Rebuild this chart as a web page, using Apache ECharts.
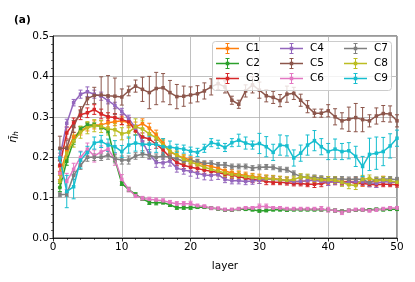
<!DOCTYPE html>
<html><head><meta charset="utf-8">
<script src="https://cdn.jsdelivr.net/npm/echarts@6/dist/echarts.min.js"></script>
<style>html,body{margin:0;padding:0;background:#fff}#c{width:415px;height:282px}</style>
</head><body><div id="c"></div>
<script>
const layers = [1,2,3,4,5,6,7,8,9,10,11,12,13,14,15,16,17,18,19,20,21,22,23,24,25,26,27,28,29,30,31,32,33,34,35,36,37,38,39,40,41,42,43,44,45,46,47,48,49,50];
const seriesNames = ['C1','C2','C3','C4','C5','C6','C7','C8','C9'];
const colors = ['#ff7f0e','#2ca02c','#d62728','#9467bd','#8c564b','#e377c2','#7f7f7f','#bcbd22','#17becf'];
const xTicks = [0,10,20,30,40,50];
const yTicks = [0.0,0.1,0.2,0.3,0.4,0.5];

const C1 = [0.16,0.215,0.25,0.265,0.275,0.28,0.28,0.285,0.288,0.29,0.285,0.275,0.283,0.272,0.255,0.235,0.213,0.205,0.198,0.193,0.186,0.181,0.177,0.173,0.166,0.161,0.158,0.155,0.152,0.15,0.148,0.147,0.145,0.143,0.14,0.14,0.142,0.145,0.143,0.14,0.142,0.14,0.14,0.14,0.138,0.14,0.14,0.145,0.14,0.138];
const C1err = [0.015,0.012,0.012,0.01,0.01,0.01,0.01,0.01,0.01,0.01,0.012,0.012,0.012,0.012,0.012,0.01,0.01,0.01,0.008,0.008,0.008,0.008,0.008,0.008,0.008,0.008,0.008,0.008,0.008,0.008,0.008,0.008,0.008,0.008,0.008,0.008,0.008,0.008,0.008,0.008,0.008,0.008,0.008,0.01,0.01,0.008,0.008,0.008,0.008,0.008];
const C2 = [0.125,0.19,0.24,0.27,0.28,0.28,0.275,0.265,0.195,0.135,0.12,0.108,0.097,0.088,0.087,0.088,0.082,0.075,0.075,0.075,0.076,0.076,0.074,0.072,0.069,0.069,0.071,0.071,0.07,0.067,0.068,0.07,0.07,0.069,0.07,0.07,0.07,0.07,0.07,0.07,0.068,0.066,0.068,0.069,0.07,0.07,0.071,0.07,0.071,0.071];
const C2err = [0.01,0.01,0.008,0.006,0.005,0.005,0.005,0.005,0.005,0.005,0.004,0.004,0.004,0.005,0.005,0.004,0.004,0.004,0.004,0.004,0.003,0.003,0.003,0.003,0.003,0.003,0.003,0.003,0.003,0.003,0.003,0.003,0.003,0.003,0.003,0.003,0.003,0.003,0.003,0.003,0.004,0.004,0.003,0.003,0.003,0.003,0.003,0.003,0.003,0.003];
const C3 = [0.18,0.26,0.285,0.305,0.31,0.318,0.307,0.3,0.298,0.293,0.288,0.265,0.25,0.245,0.232,0.218,0.2,0.187,0.18,0.175,0.172,0.168,0.165,0.162,0.158,0.155,0.152,0.148,0.145,0.143,0.14,0.138,0.138,0.137,0.135,0.135,0.133,0.133,0.135,0.138,0.14,0.137,0.14,0.135,0.135,0.133,0.132,0.133,0.133,0.132];
const C3err = [0.015,0.015,0.012,0.012,0.012,0.012,0.012,0.01,0.01,0.012,0.01,0.01,0.01,0.01,0.01,0.01,0.008,0.008,0.008,0.008,0.008,0.008,0.008,0.008,0.008,0.008,0.008,0.008,0.008,0.008,0.008,0.006,0.006,0.006,0.006,0.006,0.006,0.008,0.008,0.008,0.008,0.006,0.006,0.006,0.006,0.006,0.006,0.006,0.006,0.006];
const C4 = [0.2,0.284,0.335,0.356,0.362,0.356,0.351,0.34,0.328,0.313,0.296,0.272,0.238,0.207,0.187,0.186,0.19,0.173,0.168,0.165,0.16,0.156,0.155,0.157,0.145,0.142,0.142,0.14,0.141,0.143,0.146,0.145,0.144,0.142,0.14,0.14,0.142,0.143,0.14,0.138,0.14,0.137,0.138,0.14,0.139,0.137,0.135,0.14,0.138,0.138];
const C4err = [0.01,0.01,0.008,0.01,0.012,0.01,0.01,0.008,0.008,0.008,0.008,0.008,0.01,0.012,0.012,0.012,0.012,0.01,0.01,0.012,0.012,0.012,0.012,0.012,0.008,0.008,0.008,0.008,0.008,0.008,0.008,0.008,0.008,0.008,0.008,0.008,0.01,0.01,0.008,0.008,0.008,0.008,0.008,0.008,0.008,0.01,0.01,0.008,0.008,0.008];
const C5 = [0.222,0.222,0.276,0.313,0.345,0.353,0.354,0.352,0.351,0.349,0.364,0.376,0.368,0.36,0.37,0.372,0.36,0.35,0.351,0.354,0.357,0.364,0.374,0.382,0.374,0.341,0.331,0.364,0.379,0.366,0.352,0.348,0.34,0.356,0.358,0.341,0.325,0.309,0.309,0.315,0.3,0.29,0.294,0.298,0.293,0.29,0.302,0.308,0.307,0.29];
const C5err = [0.03,0.02,0.015,0.012,0.015,0.02,0.045,0.05,0.045,0.02,0.012,0.015,0.03,0.04,0.04,0.035,0.03,0.03,0.025,0.02,0.02,0.02,0.02,0.015,0.015,0.01,0.01,0.015,0.02,0.02,0.015,0.015,0.015,0.02,0.015,0.015,0.015,0.01,0.01,0.015,0.02,0.02,0.03,0.035,0.03,0.015,0.02,0.02,0.02,0.015];
const C6 = [0.16,0.14,0.17,0.2,0.22,0.203,0.213,0.22,0.195,0.145,0.12,0.105,0.098,0.096,0.094,0.092,0.088,0.085,0.085,0.085,0.08,0.078,0.074,0.073,0.07,0.07,0.072,0.074,0.074,0.078,0.078,0.074,0.074,0.072,0.072,0.072,0.072,0.072,0.072,0.07,0.068,0.064,0.068,0.07,0.07,0.068,0.07,0.072,0.074,0.074];
const C6err = [0.02,0.02,0.015,0.015,0.015,0.015,0.015,0.015,0.015,0.012,0.006,0.005,0.005,0.005,0.005,0.005,0.005,0.005,0.005,0.006,0.004,0.004,0.004,0.004,0.004,0.004,0.004,0.004,0.004,0.006,0.006,0.004,0.004,0.004,0.004,0.004,0.004,0.004,0.006,0.006,0.004,0.006,0.004,0.004,0.004,0.004,0.004,0.004,0.004,0.004];
const C7 = [0.107,0.108,0.155,0.18,0.2,0.2,0.2,0.205,0.196,0.193,0.193,0.203,0.208,0.205,0.2,0.203,0.2,0.196,0.19,0.192,0.189,0.185,0.185,0.181,0.181,0.177,0.177,0.177,0.173,0.175,0.176,0.175,0.17,0.169,0.16,0.152,0.15,0.15,0.148,0.146,0.146,0.146,0.145,0.146,0.145,0.137,0.145,0.146,0.146,0.144];
const C7err = [0.005,0.005,0.01,0.01,0.01,0.008,0.008,0.01,0.01,0.01,0.01,0.008,0.008,0.008,0.008,0.008,0.008,0.008,0.006,0.006,0.006,0.006,0.006,0.006,0.006,0.006,0.006,0.006,0.006,0.006,0.006,0.006,0.006,0.006,0.006,0.006,0.006,0.006,0.006,0.006,0.006,0.006,0.006,0.006,0.006,0.008,0.006,0.006,0.006,0.006];
const C8 = [0.14,0.21,0.24,0.262,0.273,0.278,0.276,0.27,0.268,0.258,0.262,0.275,0.27,0.258,0.248,0.23,0.215,0.205,0.195,0.188,0.182,0.175,0.17,0.166,0.161,0.157,0.156,0.152,0.15,0.148,0.147,0.146,0.144,0.143,0.145,0.151,0.15,0.146,0.144,0.144,0.143,0.138,0.132,0.13,0.145,0.148,0.142,0.144,0.142,0.138];
const C8err = [0.015,0.015,0.015,0.015,0.015,0.015,0.015,0.015,0.015,0.015,0.015,0.02,0.02,0.015,0.012,0.012,0.01,0.01,0.01,0.008,0.008,0.008,0.008,0.008,0.008,0.008,0.008,0.008,0.008,0.008,0.008,0.008,0.008,0.008,0.008,0.008,0.008,0.008,0.008,0.008,0.008,0.01,0.01,0.01,0.01,0.008,0.008,0.008,0.008,0.008];
const C9 = [0.198,0.115,0.127,0.193,0.212,0.235,0.239,0.23,0.226,0.214,0.23,0.235,0.232,0.232,0.232,0.226,0.225,0.222,0.22,0.215,0.212,0.222,0.236,0.232,0.224,0.236,0.242,0.235,0.23,0.234,0.226,0.212,0.23,0.228,0.198,0.21,0.23,0.241,0.226,0.214,0.22,0.214,0.216,0.202,0.177,0.207,0.21,0.214,0.228,0.247];
const C9err = [0.02,0.04,0.03,0.02,0.015,0.015,0.015,0.015,0.015,0.015,0.02,0.02,0.02,0.02,0.02,0.02,0.015,0.01,0.01,0.01,0.01,0.01,0.01,0.01,0.01,0.01,0.015,0.015,0.01,0.025,0.025,0.02,0.025,0.025,0.02,0.02,0.025,0.025,0.02,0.02,0.025,0.02,0.02,0.025,0.025,0.04,0.04,0.035,0.03,0.02];

const values = [C1,C2,C3,C4,C5,C6,C7,C8,C9];
const errs = [C1err,C2err,C3err,C4err,C5err,C6err,C7err,C8err,C9err];

const FONT = 'DejaVu Sans';
const legendIcon = 'path://M0 4.75H23V6.25H0Z M11 0H12V11H11Z M9.5 0H13.5V1H9.5Z M9.5 10H13.5V11H9.5Z M9.75 3.75H13.25V7.25H9.75Z';

const series = [];
seriesNames.forEach((name, i) => {
  const col = colors[i];
  const lineData = layers.map((l, j) => [l, values[i][j]]);
  const errData = layers.map((l, j) => [l, values[i][j], errs[i][j]]);
  series.push({
    name: name, type: 'line', data: lineData,
    symbol: 'rect', symbolSize: 3.5, showSymbol: true,
    lineStyle: {color: col, width: 1.5}, itemStyle: {color: col},
    emphasis: {disabled: true}, animation: false, z: 2
  });
  series.push({
    name: name + '_err', type: 'custom', data: errData, animation: false, z: 2,
    renderItem: function (params, api) {
      const x = api.value(0), y = api.value(1), e = api.value(2);
      const t = api.coord([x, y + e]), b = api.coord([x, y - e]);
      const cap = 2;
      const st = {stroke: col, lineWidth: 1};
      return {type: 'group', children: [
        {type: 'line', shape: {x1: t[0], y1: t[1], x2: b[0], y2: b[1]}, style: st},
        {type: 'line', shape: {x1: t[0]-cap, y1: t[1], x2: t[0]+cap, y2: t[1]}, style: st},
        {type: 'line', shape: {x1: b[0]-cap, y1: b[1], x2: b[0]+cap, y2: b[1]}, style: st}
      ]};
    }
  });
});

function mkLegend(names, left) {
  return {
    data: names, orient: 'vertical', left: left, top: 43,
    itemWidth: 23, itemHeight: 11, itemGap: 4, icon: legendIcon,
    textStyle: {fontFamily: FONT, fontSize: 10.5, color: '#000', padding: [0,0,0,2]},
    selectedMode: false, z: 6, padding: 0
  };
}

const chart = echarts.init(document.getElementById('c'), null, {renderer: 'canvas'});
chart.setOption({
  animation: false,
  backgroundColor: '#fff',
  title: {text: '(a)', left: 9, top: 10, textStyle: {fontFamily: FONT, fontSize: 10.5, fontWeight: 'bold', color: '#000'}},
  grid: {left: 52, top: 36, right: 18, bottom: 44, show: true, borderColor: '#000', borderWidth: 0.8, backgroundColor: 'transparent'},
  xAxis: {
    type: 'value', min: xTicks[0], max: xTicks[xTicks.length-1], interval: 10,
    name: 'layer', nameLocation: 'middle', nameGap: 23,
    nameTextStyle: {fontFamily: FONT, fontSize: 10.5, color: '#000'},
    axisLine: {show: true, onZero: false, lineStyle: {color: '#000', width: 0.8}},
    axisTick: {show: true, inside: false, length: 3.5, lineStyle: {color: '#000', width: 0.8}},
    minorTick: {show: true, splitNumber: 5, length: 2, lineStyle: {color: '#000', width: 0.6}},
    splitLine: {show: true, lineStyle: {color: '#b0b0b0', width: 0.8}},
    axisLabel: {fontFamily: FONT, fontSize: 10.5, color: '#000', margin: 4}
  },
  yAxis: {
    type: 'value', min: yTicks[0], max: yTicks[yTicks.length-1], interval: 0.1,
    name: '{e|η̄}{s|h}', nameLocation: 'middle', nameGap: 33,
    nameTextStyle: {fontFamily: FONT, color: '#000',
      rich: {e: {fontFamily: FONT, fontSize: 11, fontStyle: 'italic', color: '#000'},
             s: {fontFamily: FONT, fontSize: 7.5, fontStyle: 'italic', color: '#000', padding: [5,0,0,0]}}},
    axisLine: {show: true, onZero: false, lineStyle: {color: '#000', width: 0.8}},
    axisTick: {show: true, inside: false, length: 3.5, lineStyle: {color: '#000', width: 0.8}},
    minorTick: {show: true, splitNumber: 5, length: 2, lineStyle: {color: '#000', width: 0.6}},
    splitLine: {show: true, lineStyle: {color: '#b0b0b0', width: 0.8}},
    axisLabel: {fontFamily: FONT, fontSize: 10.5, color: '#000', margin: 4, formatter: v => v.toFixed(1)}
  },
  legend: [
    mkLegend(seriesNames.slice(0,3), 216),
    mkLegend(seriesNames.slice(3,6), 280),
    mkLegend(seriesNames.slice(6,9), 344)
  ],
  graphic: {elements: [{
    type: 'rect', z: 5, shape: {x: 212.5, y: 41.5, width: 179, height: 49, r: 3},
    style: {fill: 'rgba(255,255,255,0.8)', stroke: '#cccccc', lineWidth: 1}
  }]},
  series: series
});
</script></body></html>
